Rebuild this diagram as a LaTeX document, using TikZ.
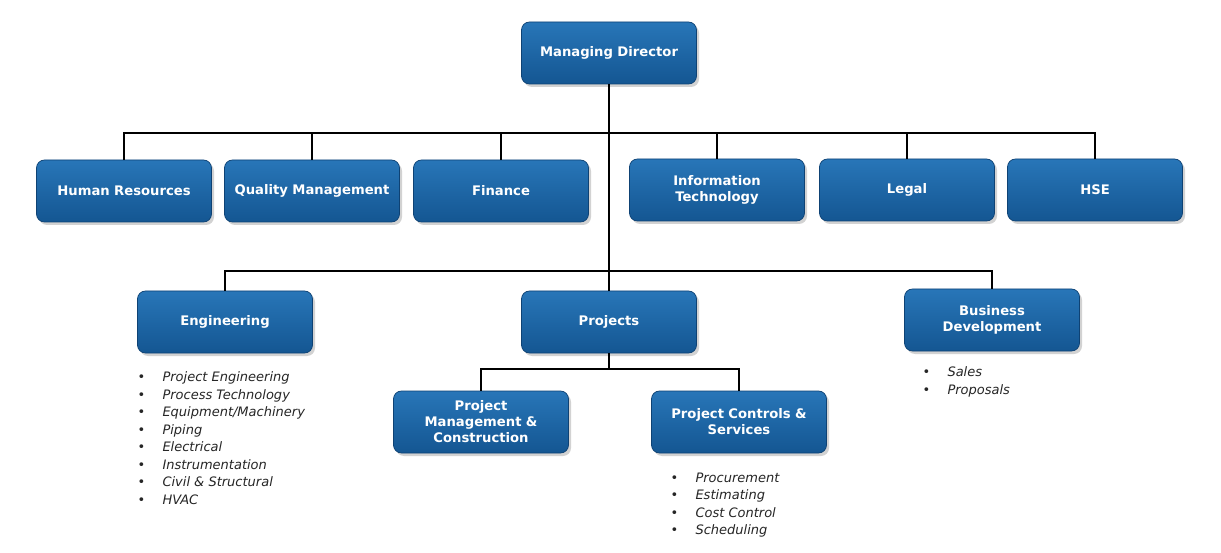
\documentclass[tikz,border=0pt]{standalone}
\usepackage{fontspec}
\setmainfont{DejaVu Sans}
\usepackage{tikz}
\usetikzlibrary{shapes,shadows}
\definecolor{boxtop}{RGB}{40,118,184}
\definecolor{boxbot}{RGB}{20,86,146}
\definecolor{boxedge}{RGB}{14,66,116}
\newcommand{\duty}[1]{\makebox[0.5cm][l]{\textbullet}\textit{#1}\\}
\tikzstyle{unit} = [rectangle, rounded corners=0.16cm, minimum width=3.5cm, minimum height=1.24cm, text width=3.3cm, inner xsep=0.1cm, align=center, draw=boxedge, line width=0.4pt, top color=boxtop, bottom color=boxbot, text=white, font=\fontsize{7.5}{9.1}\selectfont\bfseries, drop shadow={shadow xshift=0.05cm, shadow yshift=-0.06cm, opacity=0.35}]
\tikzstyle{dutylist} = [anchor=north west, inner sep=0pt, align=left, text=black!85, font=\fontsize{7.4}{9.96}\selectfont]
\tikzstyle{link} = [line width=1.1pt, black]

\begin{document}
\begin{tikzpicture}[node distance=2.7cm]
\useasboundingbox [fill=white] (0,0) rectangle (24.42,-11.06);

\node (md) [unit] at (12.18,-1.06) {Managing Director};
\node (hr) [unit, below of=md, xshift=-9.70cm, yshift=-0.06cm] {Human Resources};
\node (qm) [unit, below of=md, xshift=-5.94cm, yshift=-0.06cm] {Quality Management};
\node (fin) [unit, below of=md, xshift=-2.16cm, yshift=-0.06cm] {Finance};
\node (it) [unit, below of=md, xshift=2.16cm, yshift=-0.04cm] {Information\\Technology};
\node (legal) [unit, below of=md, xshift=5.96cm, yshift=-0.04cm] {Legal};
\node (hse) [unit, below of=md, xshift=9.72cm, yshift=-0.04cm] {HSE};
\node (proj) [unit, below of=md, yshift=-2.68cm] {Projects};
\node (eng) [unit, left of=proj, xshift=-4.98cm] {Engineering};
\node (bd) [unit, right of=proj, xshift=4.96cm, yshift=0.04cm] {Business\\Development};
\node (pmc) [unit, below of=proj, xshift=-2.56cm, yshift=0.7cm] {Project\\Management \&\\Construction};
\node (pcs) [unit, below of=proj, xshift=2.60cm, yshift=0.7cm] {Project Controls \&\\Services};

\node (englist) [dutylist, xshift=0.0cm, yshift=-0.36cm] at (eng.south west) {\duty{Project Engineering}\duty{Process Technology}\duty{Equipment/Machinery}\duty{Piping}\duty{Electrical}\duty{Instrumentation}\duty{Civil \& Structural}\duty{HVAC}};
\node (pcslist) [dutylist, xshift=0.38cm, yshift=-0.38cm] at (pcs.south west) {\duty{Procurement}\duty{Estimating}\duty{Cost Control}\duty{Scheduling}};
\node (bdlist) [dutylist, xshift=0.36cm, yshift=-0.30cm] at (bd.south west) {\duty{Sales}\duty{Proposals}};

\path (md.south) ++(0,-0.98) coordinate (bus1);
\path (proj.north) ++(0,0.40) coordinate (bus2);
\path (proj.south) ++(0,-0.32) coordinate (bus3);

\draw [link] (md) -- (proj);
\draw [link] (hr.north) |- (bus1) -| (hse.north);
\draw [link] (qm.north) -- (qm.north |- bus1);
\draw [link] (fin.north) -- (fin.north |- bus1);
\draw [link] (it.north) -- (it.north |- bus1);
\draw [link] (legal.north) -- (legal.north |- bus1);
\draw [link] (eng.north) |- (bus2) -| (bd.north);
\draw [link] (proj.south) -- (bus3);
\draw [link] (pmc.north) |- (bus3) -| (pcs.north);

\end{tikzpicture}
\end{document}
